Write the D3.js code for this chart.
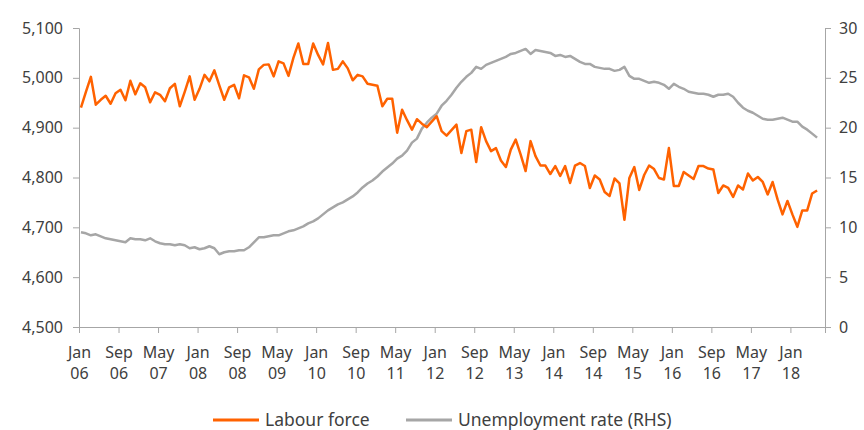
<!DOCTYPE html>
<html>
<head>
<meta charset="utf-8">
<script src="https://d3js.org/d3.v7.min.js"></script>
<style>
  body { margin: 0; background: #fff; }
  svg text { font-family: "Noto Sans", "DejaVu Sans", sans-serif; fill: #404040; }
</style>
</head>
<body>
<svg id="chart"></svg>
<script>
// monthly series, Jan 2006 onwards
var labourForce = [
  4940, 4972, 5002, 4946, 4956, 4964, 4948, 4969, 4976, 4955, 4994, 4967,
  4989, 4981, 4951, 4971, 4966, 4953, 4979, 4988, 4943, 4972, 5003, 4956,
  4978, 5006, 4993, 5015, 4985, 4956, 4981, 4986, 4959, 5005, 5001, 4978,
  5017, 5026, 5027, 5003, 5033, 5029, 5004, 5040, 5069, 5028, 5028, 5069,
  5046, 5027, 5070, 5016, 5018, 5033, 5019, 4995, 5006, 5003, 4988, 4986,
  4984, 4943, 4958, 4958, 4890, 4936, 4915, 4896, 4917, 4908, 4901, 4912,
  4923, 4893, 4884, 4895, 4906, 4849, 4893, 4896, 4831, 4901, 4873, 4853,
  4859, 4834, 4821, 4856, 4876, 4846, 4813, 4873, 4843, 4824, 4824, 4807,
  4823, 4803, 4823, 4789, 4824, 4829, 4823, 4779, 4804, 4796, 4771, 4763,
  4798, 4788, 4715, 4799, 4821, 4775, 4805, 4824, 4817, 4799, 4796, 4859,
  4783, 4783, 4811, 4804, 4797, 4823, 4823, 4818, 4816, 4769, 4784, 4779,
  4761, 4784, 4776, 4808, 4794, 4801, 4791, 4766, 4791, 4756, 4726, 4753,
  4726, 4701, 4734, 4734, 4768, 4774
]

var unemployment = [
  9.5, 9.4, 9.2, 9.3, 9.1, 8.9, 8.8, 8.7, 8.6, 8.5, 8.9, 8.8,
  8.8, 8.7, 8.9, 8.6, 8.4, 8.3, 8.3, 8.2, 8.3, 8.2, 7.9, 8.0,
  7.8, 7.9, 8.1, 7.9, 7.3, 7.5, 7.6, 7.6, 7.7, 7.7, 8.0, 8.5,
  9.0, 9.0, 9.1, 9.2, 9.2, 9.4, 9.6, 9.7, 9.9, 10.1, 10.4, 10.6,
  10.9, 11.3, 11.7, 12.0, 12.3, 12.5, 12.8, 13.1, 13.5, 14.0, 14.4, 14.7,
  15.1, 15.6, 16.0, 16.4, 16.9, 17.2, 17.7, 18.5, 18.9, 19.9, 20.5, 21.0,
  21.4, 22.2, 22.7, 23.3, 24.0, 24.6, 25.1, 25.5, 26.1, 25.9, 26.3, 26.5,
  26.7, 26.9, 27.1, 27.4, 27.5, 27.7, 27.9, 27.4, 27.8, 27.7, 27.6, 27.5,
  27.2, 27.3, 27.1, 27.2, 26.9, 26.6, 26.4, 26.4, 26.1, 26.0, 25.9, 25.9,
  25.7, 25.8, 26.1, 25.2, 24.9, 24.9, 24.7, 24.5, 24.6, 24.5, 24.3, 23.9,
  24.4, 24.1, 23.9, 23.6, 23.5, 23.4, 23.4, 23.3, 23.1, 23.3, 23.3, 23.4,
  23.1, 22.5, 22.0, 21.7, 21.5, 21.2, 20.9, 20.8, 20.8, 20.9, 21.0, 20.8,
  20.6, 20.6, 20.1, 19.8, 19.4, 19.0
]

var monthNames = ["Jan", "Feb", "Mar", "Apr", "May", "Jun", "Jul", "Aug", "Sep", "Oct", "Nov", "Dec"]
var leftTicks = [4500, 4600, 4700, 4800, 4900, 5000, 5100]
var rightTicks = [0, 5, 10, 15, 20, 25, 30]
var seriesNames = ["Labour force", "Unemployment rate (RHS)"]

var width = 864
var height = 430
var margin = { top: 28, right: 39, bottom: 103, left: 79 }
var orange = "#ff6200"
var grey = "#a6a6a6"
var axisColor = "#a6a6a6"

var svg = d3.select("#chart").attr("width", width).attr("height", height)

var x = d3.scaleLinear().domain([0, 151]).range([margin.left, width - margin.right])
var yLeft = d3.scaleLinear().domain([4500, 5100]).range([height - margin.bottom, margin.top])
var yRight = d3.scaleLinear().domain([0, 30]).range([height - margin.bottom, margin.top])

// points sit slightly right of the category tick, as in the source
var offset = 0.4

// x axis: tick every 8 months, two-line labels
var xTicks = d3.range(0, 145, 8)
var xAxis = svg.append("g")
  .attr("transform", "translate(0," + yLeft(4500) + ")")
  .call(d3.axisBottom(x).tickValues(xTicks).tickSize(6).tickFormat(""))
xAxis.select(".domain").attr("stroke", axisColor)
xAxis.selectAll(".tick line").attr("stroke", axisColor)
xAxis.selectAll(".tick").each(function (m) {
  var t = d3.select(this).append("text")
    .attr("text-anchor", "middle")
    .style("font-size", "16px")
  t.append("tspan").attr("x", 0).attr("y", 31).text(monthNames[m % 12])
  t.append("tspan").attr("x", 0).attr("y", 52).text(String(6 + Math.floor(m / 12)).padStart(2, "0"))
})

var leftAxis = svg.append("g")
  .attr("transform", "translate(" + margin.left + ",0)")
  .call(d3.axisLeft(yLeft).tickValues(leftTicks).tickSize(6).tickPadding(10).tickFormat(d3.format(",")))
var rightAxis = svg.append("g")
  .attr("transform", "translate(" + (width - margin.right) + ",0)")
  .call(d3.axisRight(yRight).tickValues(rightTicks).tickSize(6).tickPadding(8))

;[leftAxis, rightAxis].forEach(function (a) {
  a.select(".domain").attr("stroke", axisColor)
  a.selectAll(".tick line").attr("stroke", axisColor)
  a.selectAll(".tick text").style("font-size", "16px").attr("fill", "#404040")
})

// lines
var lfLine = d3.line()
  .x(function (d, i) { return x(i + offset) })
  .y(function (d) { return yLeft(d) })
var urLine = d3.line()
  .x(function (d, i) { return x(i + offset) })
  .y(function (d) { return yRight(d) })

svg.append("path").datum(unemployment)
  .attr("d", urLine)
  .attr("fill", "none")
  .attr("stroke", grey)
  .attr("stroke-width", 2.5)
  .attr("stroke-linejoin", "round")

svg.append("path").datum(labourForce)
  .attr("d", lfLine)
  .attr("fill", "none")
  .attr("stroke", orange)
  .attr("stroke-width", 2.5)
  .attr("stroke-linejoin", "round")

// legend
var legend = svg.append("g").attr("transform", "translate(0,420)")
var legendItems = [
  { name: seriesNames[0], color: orange, x: 213 },
  { name: seriesNames[1], color: grey, x: 406 }
]
legendItems.forEach(function (item) {
  legend.append("line")
    .attr("x1", item.x).attr("x2", item.x + 46)
    .attr("y1", 0).attr("y2", 0)
    .attr("stroke", item.color)
    .attr("stroke-width", 3)
  legend.append("text")
    .attr("x", item.x + 52)
    .attr("y", 6)
    .style("font-size", "17.5px")
    .text(item.name)
})
</script>
</body>
</html>
